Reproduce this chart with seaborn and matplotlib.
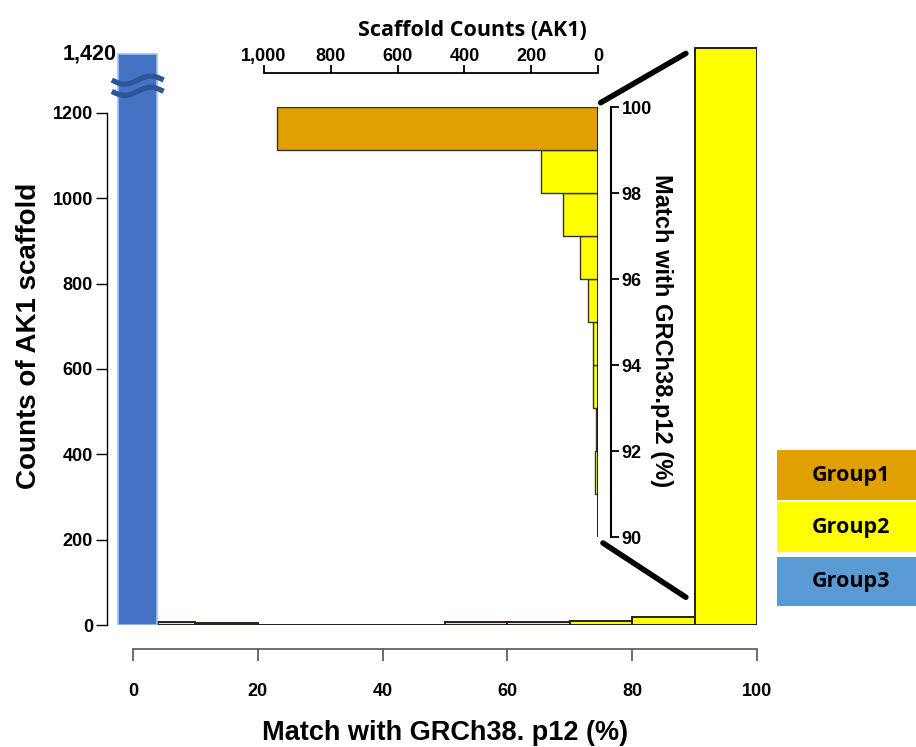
import numpy as np
import pandas as pd
import matplotlib
matplotlib.use("Agg")
import matplotlib.pyplot as plt
from matplotlib.patches import Rectangle, ConnectionPatch
import seaborn as sns

# main histogram: % match with GRCh38.p12 (bin edges) and scaffold counts
main_edges = [4, 10, 20, 30, 40, 50, 60, 70, 80, 90, 100]
main_counts = [8, 5, 1, 1, 1, 8, 8, 9, 19, 1440]
# group3: scaffolds with ~0% match
g3_edges = [-2.4, 3.8]
g3_counts = [1420]

# inset: 90-100% zoomed, 1% bins
inset_edges = [90, 91, 92, 93, 94, 95, 96, 97, 98, 99, 100]
inset_counts = [0, 9, 5, 14, 14, 31, 54, 106, 170, 960]  # last bin = Group1

y_ticks = [0, 200, 400, 600, 800, 1000, 1200]
x_ticks = [0, 20, 40, 60, 80, 100]
inset_x_ticks = [1000, 800, 600, 400, 200, 0]
inset_x_labels = ["1,000", "800", "600", "400", "200", "0"]
inset_y_ticks = [90, 92, 94, 96, 98, 100]

groups = ["Group1", "Group2", "Group3"]
group_colors = ["#DFA000", "#FFFF00", "#5B9BD5"]

YELLOW = "#FFFF00"
ORANGE = "#DFA000"
BLUE = "#4472C4"

sns.set_theme(style="white")
plt.rcParams["font.family"] = ["Liberation Sans", "DejaVu Sans"]
plt.rcParams["font.weight"] = "bold"
for key in ["text.color", "axes.labelcolor", "xtick.color", "ytick.color"]:
    plt.rcParams[key] = "black"

W, H = 916, 747
fig = plt.figure(figsize=(W / 100, H / 100), dpi=100)

# ---- main axes ----
ax = fig.add_axes([107 / W, (H - 625) / H, 650 / W, 578 / H])

def mids(edges):
    e = np.asarray(edges, dtype=float)
    return (e[:-1] + e[1:]) / 2

main_df = pd.DataFrame({"x": mids(main_edges), "n": main_counts})
sns.histplot(data=main_df, x="x", weights="n", bins=main_edges, ax=ax,
             color=YELLOW, alpha=1, edgecolor="#222222", linewidth=1.4)
g3_df = pd.DataFrame({"x": mids(g3_edges), "n": g3_counts})
sns.histplot(data=g3_df, x="x", weights="n", bins=g3_edges, ax=ax,
             color=BLUE, alpha=1, edgecolor="#9DC3E6", linewidth=1.2)

# broken y axis above 1200
k = 0.63
fwd = lambda y: np.where(y <= 1200, y, 1200 + (y - 1200) * k)
inv = lambda t: np.where(t <= 1200, t, 1200 + (t - 1200) / k)
ax.set_yscale("function", functions=(fwd, inv))
ax.set_ylim(0, 1445)
ax.set_xlim(-4.17, 100)

for s in ["top", "right"]:
    ax.spines[s].set_visible(False)
ax.spines["left"].set_bounds(0, 1200)
ax.spines["left"].set_color("black")
ax.spines["left"].set_linewidth(1)
ax.spines["bottom"].set_position(("outward", 17.3))
ax.spines["bottom"].set_bounds(0, 100)
ax.spines["bottom"].set_color("#555555")
ax.spines["bottom"].set_linewidth(1.2)

ax.set_yticks(y_ticks)
ax.set_yticklabels([str(v) for v in y_ticks])
ax.yaxis.set_minor_locator(matplotlib.ticker.NullLocator())
ax.set_xticks(x_ticks)
ax.tick_params(axis="y", direction="out", length=8, width=1, color="black",
               labelsize=13, pad=2, left=True)
ax.tick_params(axis="x", direction="out", length=8.6, width=1.2, color="#555555",
               labelsize=13, pad=16, bottom=True)
for lab in ax.get_xticklabels() + ax.get_yticklabels():
    lab.set_fontweight("bold")

ax.text(-2.56, 1420, "1,420", ha="right", va="center", fontsize=15.5,
        fontweight="bold")

ax.set_ylabel("Counts of AK1 scaffold", fontsize=20, fontweight="bold",
              labelpad=8)
ax.set_xlabel("Match with GRCh38. p12 (%)", fontsize=19.5, fontweight="bold",
              labelpad=14)
ax.xaxis.set_label_coords(0.52, -0.165)
ax.set_facecolor("white")

# break symbol on the blue bar
wx = np.linspace(-3.4, 4.9, 60)
wave = 15 * np.sin((wx - wx[0]) / (wx[-1] - wx[0]) * 2 * np.pi + np.pi)
ax.plot(wx, 1322 + wave, color="#2F5597", lw=3.8, solid_capstyle="butt",
        clip_on=False)
ax.plot(wx, 1280 + wave, color="#2F5597", lw=3.8, solid_capstyle="butt",
        clip_on=False)

# ---- inset ----
ins = fig.add_axes([264 / W, (H - 537) / H, 334 / W, 430 / H])
ins_df = pd.DataFrame({"y": mids(inset_edges), "n": inset_counts})
g2 = ins_df.iloc[:-1]
g1 = ins_df.iloc[-1:]
sns.histplot(data=g2, y="y", weights="n", bins=inset_edges[:-1], ax=ins,
             color=YELLOW, alpha=1, edgecolor="#333333", linewidth=1)
sns.histplot(data=g1, y="y", weights="n", bins=inset_edges[-2:], ax=ins,
             color=ORANGE, alpha=1, edgecolor="#333333", linewidth=1)
ins.set_xlim(1000, 0)
ins.set_ylim(90, 100)
ins.axvline(0, color="black", lw=1.2)
ins.set_facecolor("none")
ins.set_xlabel("")
ins.set_ylabel("")

ins.spines["left"].set_visible(False)
ins.spines["bottom"].set_visible(False)
ins.spines["top"].set_position(("outward", 24.5))
ins.spines["top"].set_bounds(0, 1000)
ins.spines["top"].set_color("black")
ins.spines["top"].set_linewidth(1.3)
ins.spines["right"].set_position(("outward", 9))
ins.spines["right"].set_bounds(90, 100)
ins.spines["right"].set_color("black")
ins.spines["right"].set_linewidth(1.5)

ins.xaxis.tick_top()
ins.set_xticks(inset_x_ticks)
ins.set_xticklabels(inset_x_labels)
ins.yaxis.tick_right()
ins.set_yticks(inset_y_ticks)
ins.tick_params(axis="x", direction="out", length=5.5, width=1.3, color="black",
                labelsize=13, pad=0, top=True, bottom=False)
ins.tick_params(axis="y", direction="out", length=6, width=1.3, color="black",
                labelsize=13, pad=2, right=True, left=False)
for lab in ins.get_xticklabels() + ins.get_yticklabels():
    lab.set_fontweight("bold")

ins.text(0.625, 1.178, "Scaffold Counts (AK1)", transform=ins.transAxes,
         ha="center", va="center", fontsize=15.5, fontweight="bold",
         family=["Open Sans", "DejaVu Sans"])
ins.text(1.19, 0.48, "Match with GRCh38.p12 (%)", transform=ins.transAxes,
         ha="center", va="center", rotation=270, fontsize=17, fontweight="bold")

# zoom connectors
for a_xy, b_xy in [((-8, 100.1), (88.6, 1421)), ((-15, 89.86), (88.6, 65))]:
    con = ConnectionPatch(xyA=a_xy, coordsA=ins.transData, xyB=b_xy,
                          coordsB=ax.transData, color="black", lw=4)
    fig.add_artist(con)

# ---- group legend ----
boxes = [(450, 500), (502, 552), (557, 606)]
for name, col, (top, bot) in zip(groups, group_colors, boxes):
    fig.add_artist(Rectangle((777 / W, (H - bot) / H), 139 / W, (bot - top) / H,
                             transform=fig.transFigure, facecolor=col,
                             edgecolor="none"))
    fig.text(851 / W, (H - (top + bot) / 2) / H, name, ha="center", va="center",
             fontsize=15.5, fontweight="bold", family=["Open Sans", "DejaVu Sans"])

fig.savefig("out.png", dpi=100, facecolor="white")
